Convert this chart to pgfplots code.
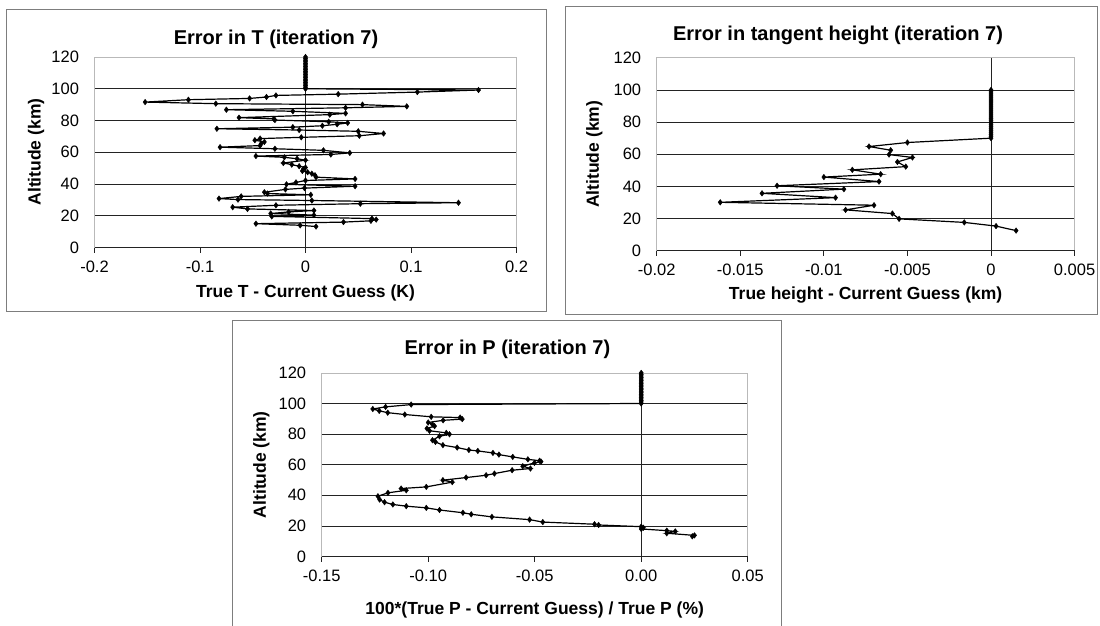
\documentclass[border=0pt]{standalone}
\usepackage{fontspec}
\setmainfont{Liberation Sans}
\usepackage{pgfplots}
\pgfplotsset{compat=1.18}
\definecolor{framegray}{RGB}{125,125,125}
\definecolor{boxgray}{RGB}{185,185,185}
\definecolor{gridc}{RGB}{35,35,35}

\pgfplotsset{
  excel/.style={
    scale only axis,
    anchor=south west,
    ymin=0, ymax=120,
    ytick={0,20,40,60,80,100,120},
    yticklabels={0,20,40,60,80,100,120},
    scaled x ticks=false,
    axis line style={draw=none},
    ymajorgrids,
    grid style={gridc, line width=0.8pt},
    tick align=outside,
    xtick pos=left,
    ytick pos=left,
    major tick length=5pt,
    xtick style={gridc, line width=0.8pt},
    ytick style={draw=none},
    every tick label/.append style={font=\fontsize{16.5}{18}\selectfont},
    yticklabel style={xshift=-7pt},
    xticklabel style={yshift=-5pt},
    clip=false,
  },
  data/.style={black, line width=1.2pt, mark=diamond*, mark size=2.8pt,
    mark options={fill=black, line width=0.4pt}},
}
\newcommand{\ttl}{\fontsize{20}{22}\selectfont\bfseries}
\newcommand{\lbl}{\fontsize{17.5}{20}\selectfont\bfseries}

\begin{document}
\begin{tikzpicture}[x=1pt,y=1pt]
\useasboundingbox (0,0) rectangle (1100,625);
% panel frames
\draw[framegray, line width=1pt] (6.5,615) rectangle (546,314);
\draw[framegray, line width=1pt] (565,618.3) rectangle (1097,311);
\draw[framegray, line width=1pt] (232.3,305) rectangle (781.7,-5);

% ---------------- Panel 1: Error in T
\begin{axis}[excel, at={(94.5pt,377.5pt)}, width=422pt, height=190.5pt,
  xmin=-0.2, xmax=0.2, xtick={-0.2,-0.1,0,0.1,0.2},
  xticklabels={-0.2,-0.1,0,0.1,0.2}]
\draw[boxgray, line width=0.8pt] (rel axis cs:0,0) rectangle (rel axis cs:1,1);
\draw[gridc, line width=0.8pt] (rel axis cs:0,0) -- (rel axis cs:1,0);
\draw[gridc, line width=0.8pt] (axis cs:0,0) -- (axis cs:0,120);
\addplot[data] coordinates {
(0,120)(0,119)(0,118)(0,117)(0,116)(0,115)(0,114)(0,113)(0,112)(0,111)(0,110)
(0,109)(0,108)(0,107)(0,106)(0,105)(0,104)(0,103)(0,102)(0,101)(0,100)
(0.164,99.2)(0.106,97.9)(0.031,96.6)(-0.028,95.8)(-0.037,94.8)(-0.053,93.9)
(-0.111,93.1)(-0.152,91.6)(-0.085,90.6)(0.054,90.0)(0.096,88.9)(0.038,88.0)
(-0.075,86.8)(-0.012,85.8)(0.038,84.5)(0.023,83.7)(-0.063,81.8)(-0.030,81.0)
(-0.029,80.3)(0.022,79.2)(0.040,78.5)(0.030,77.6)(0.016,76.7)(-0.012,75.8)
(-0.084,74.8)(-0.006,74.0)(0.050,73.2)(0.074,71.8)(0.051,70.4)(-0.004,69.4)
(-0.043,68.6)(-0.048,67.6)(-0.039,66.5)(-0.042,65.4)(-0.043,64.2)(-0.081,63.2)
(-0.029,62.2)(0.017,61.2)(0.042,59.6)(0.024,58.6)(-0.047,57.6)(-0.020,56.8)
(-0.008,55.9)(0.000,55.0)(-0.021,53.2)(-0.013,52.2)(-0.006,51.2)(0.000,50.4)
(-0.002,49.4)(-0.003,48.2)(0.002,47.4)(0.006,46.5)(0.009,45.5)(0.010,44.3)
(0.047,43.2)(0.000,42.2)(-0.009,41.0)(-0.018,39.8)(0.047,38.6)(-0.001,37.4)
(-0.019,36.6)(-0.039,34.8)(-0.036,34.0)(0.005,33.2)(-0.061,32.2)(-0.082,30.8)
(-0.064,30.2)(0.006,29.6)(0.145,28.2)(0.052,27.6)(-0.028,26.6)(-0.069,25.4)
(-0.055,24.3)(0.008,23.3)(-0.016,22.4)(-0.033,21.4)(0.008,20.4)(-0.032,19.6)
(0.063,18.2)(0.067,17.6)(0.062,16.8)(0.036,16.0)(-0.047,15.0)(-0.005,14.0)
(0.010,13.2)
};
\end{axis}
\node[font=\ttl] at (276,586) {Error in T (iteration 7)};
\node[font=\lbl] at (305.5,332) {True T - Current Guess (K)};
\node[font=\lbl, rotate=90] at (36,473) {Altitude (km)};

% ---------------- Panel 2: Error in tangent height
\begin{axis}[excel, at={(656.7pt,374.3pt)}, width=417.9pt, height=192.9pt,
  xmin=-0.02, xmax=0.005, xtick={-0.02,-0.015,-0.01,-0.005,0,0.005},
  xticklabels={-0.02,-0.015,-0.01,-0.005,0,0.005}]
\draw[boxgray, line width=0.8pt] (rel axis cs:0,0) rectangle (rel axis cs:1,1);
\draw[gridc, line width=0.8pt] (rel axis cs:0,0) -- (rel axis cs:1,0);
\draw[gridc, line width=0.8pt] (axis cs:0,0) -- (axis cs:0,120);
\addplot[data] coordinates {
(0,100)(0,98.75)(0,97.5)(0,96.25)(0,95)(0,93.75)(0,92.5)(0,91.25)(0,90)
(0,88.75)(0,87.5)(0,86.25)(0,85)(0,83.75)(0,82.5)(0,81.25)(0,80)
(0,78.75)(0,77.5)(0,76.25)(0,75)(0,73.75)(0,72.5)(0,71.25)(0,70)
(-0.0050,67.3)(-0.0073,64.8)(-0.0060,62.5)(-0.0061,59.8)(-0.0047,58.0)
(-0.0056,55.2)(-0.0051,52.3)(-0.0083,50.3)(-0.0066,47.6)(-0.0100,45.8)
(-0.0067,43.0)(-0.0128,40.4)(-0.0088,38.3)(-0.0137,35.7)(-0.0093,33.0)
(-0.0162,30.1)(-0.0070,28.3)(-0.0087,25.4)(-0.0059,23.1)(-0.0055,19.8)
(-0.0016,17.6)(0.0003,15.3)(0.0015,12.5)
};
\end{axis}
\node[font=\ttl] at (838,590) {Error in tangent height (iteration 7)};
\node[font=\lbl] at (865.6,330) {True height - Current Guess (km)};
\node[font=\lbl, rotate=90] at (594.4,470.7) {Altitude (km)};

% ---------------- Panel 3: Error in P
\begin{axis}[excel, at={(321.7pt,68.5pt)}, width=426pt, height=183.6pt,
  xmin=-0.15, xmax=0.05, xtick={-0.15,-0.1,-0.05,0,0.05},
  xticklabels={-0.15,-0.10,-0.05,0.00,0.05}]
\draw[boxgray, line width=0.8pt] (rel axis cs:0,0) rectangle (rel axis cs:1,1);
\draw[gridc, line width=0.8pt] (rel axis cs:0,0) -- (rel axis cs:1,0);
\draw[gridc, line width=0.8pt] (axis cs:0,0) -- (axis cs:0,120);
\addplot[data] coordinates {
(0,120)(0,119)(0,118)(0,117)(0,116)(0,115)(0,114)(0,113)(0,112)(0,111)(0,110)
(0,109)(0,108)(0,107)(0,106)(0,105)(0,104)(0,103)(0,102)(0,101)(0,100)
(-0.108,99.3)(-0.120,97.8)(-0.126,96.4)(-0.123,95.2)(-0.119,94.0)(-0.111,92.8)
(-0.0986,91.3)(-0.085,90.8)(-0.084,89.8)(-0.093,89.0)(-0.100,87.6)(-0.098,86.3)
(-0.097,85.2)(-0.1006,83.7)(-0.0994,82.2)(-0.0915,80.8)(-0.090,79.9)(-0.0947,78.6)
(-0.098,76.0)(-0.0966,74.9)(-0.0931,72.8)(-0.0864,71.2)(-0.0809,69.6)(-0.0767,69.0)
(-0.0696,67.7)(-0.0668,66.6)(-0.0603,65.1)(-0.0532,63.5)(-0.0477,62.6)(-0.0470,62.0)
(-0.0501,61.2)(-0.0556,59.0)(-0.0520,57.5)(-0.0606,56.4)(-0.0689,54.2)(-0.0728,53.1)
(-0.0822,51.6)(-0.0931,49.9)(-0.0887,48.6)(-0.1009,45.5)(-0.1127,44.4)(-0.1103,43.3)
(-0.1189,41.6)(-0.1236,39.4)(-0.1228,37.2)(-0.1205,35.5)(-0.1166,34.0)(-0.1103,32.9)
(-0.1009,31.8)(-0.0947,30.4)(-0.0837,28.6)(-0.0798,27.6)(-0.0701,25.9)(-0.0524,24.1)
(-0.0462,22.5)(-0.0219,21.1)(-0.0200,20.6)(0.000,19.5)(0.001,18.8)(0.000,18.0)
(0.012,16.9)(0.016,16.4)(0.012,15.2)(0.025,13.8)(0.024,13.2)
};
\end{axis}
\node[font=\ttl] at (507.4,275.7) {Error in P (iteration 7)};
\node[font=\lbl] at (534.7,15) {100*(True P - Current Guess) / True P (\%)};
\node[font=\lbl, rotate=90] at (261.4,160.3) {Altitude (km)};
\end{tikzpicture}
\end{document}
